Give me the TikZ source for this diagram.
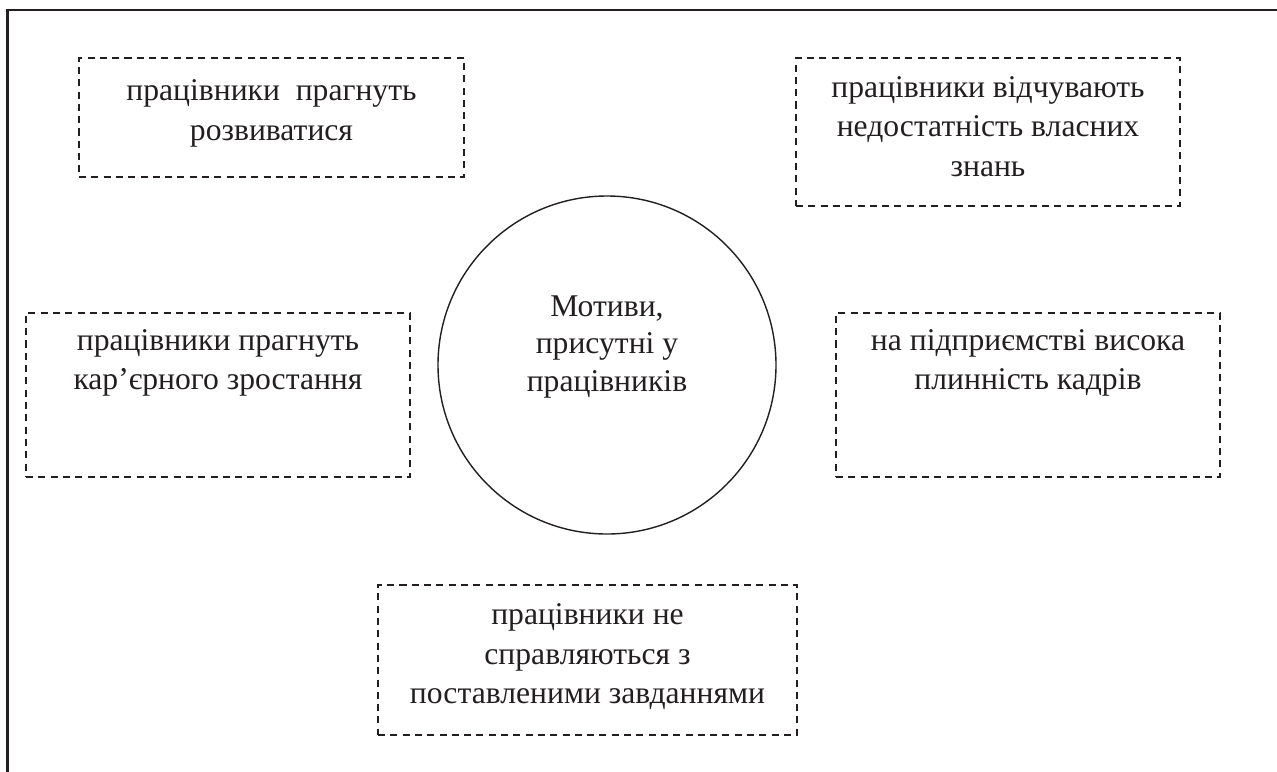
\documentclass[tikz,border=0pt]{standalone}
\usepackage{fontspec}
\setmainfont{Liberation Serif}
\usepackage{xcolor}
\usepackage{tikz}
\usetikzlibrary{positioning}

\definecolor{ink}{RGB}{35,31,32}

\begin{document}
\begin{tikzpicture}[
        dashbox/.style={draw=ink, line width=1pt, dash pattern=on 4pt off 3pt, inner sep=0pt, minimum width=7.68cm},
        motive/.style={text=ink, align=center, inner sep=0pt, font=\fontsize{18}{22.5}\selectfont},
    ]
        \useasboundingbox (0,0) rectangle (25.54,-15.44);

        % Frame (open at right and bottom)
        \draw[ink, line width=1.4pt] (0.15,-15.44) -- (0.15,-0.2) -- (25.54,-0.2);

        % Centre circle
        \node[circle, draw=ink, line width=0.8pt, minimum size=6.76cm, inner sep=0pt] (core) at (12.14,-7.30) {};
        \node[motive, font=\fontsize{18}{21.3}\selectfont, yshift=0.36cm] (coretext) at (core) {Мотиви,\\присутні у\\працівників};

        % Top row
        \node[dashbox, minimum width=7.70cm, minimum height=2.38cm] (dev) at (5.43,-2.35) {};
        \node[motive, yshift=0.08cm] (devtext) at (dev) {працівники~ прагнуть\\розвиватися};

        \node[dashbox, minimum height=2.96cm] (know) at (19.76,-2.64) {};
        \node[motive, yshift=0.11cm] (knowtext) at (know) {працівники відчувають\\недостатність власних\\знань};

        % Middle row
        \node[dashbox, minimum height=3.28cm] (career) at (4.36,-7.90) {};
        \node[motive, below=0.34cm of career.north] (careertext) {працівники прагнуть\\кар’єрного зростання};

        \node[dashbox, minimum height=3.28cm] (turnover) at (20.56,-7.90) {};
        \node[motive, below=0.34cm of turnover.north] (turnovertext) {на підприємстві висока\\плинність кадрів};

        % Bottom
        \node[dashbox, minimum width=8.38cm, minimum height=3.00cm] (tasks) at (11.75,-13.20) {};
        \node[motive, yshift=0.06cm] (taskstext) at (tasks) {працівники не\\справляються з\\поставленими завданнями};
    \end{tikzpicture}
\end{document}
